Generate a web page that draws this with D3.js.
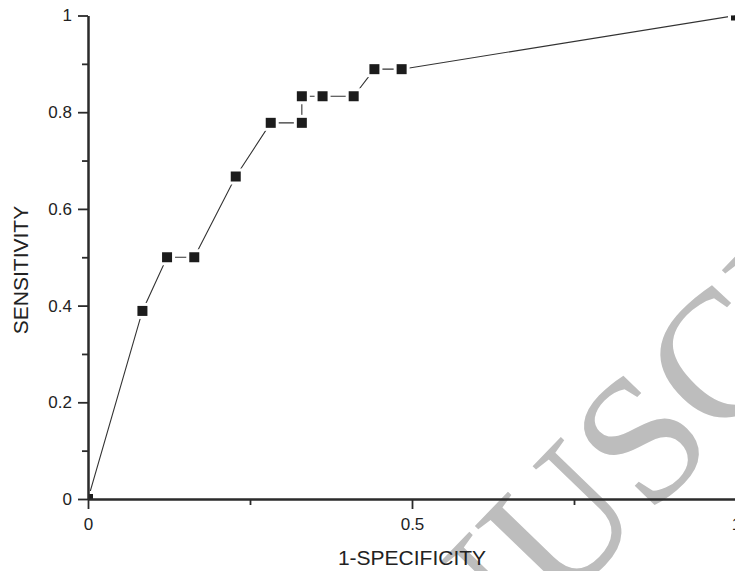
<!DOCTYPE html>
<html>
<head>
<meta charset="utf-8">
<script src="https://cdn.jsdelivr.net/npm/d3@7"></script>
<style>
  body { margin: 0; background: #fff; }
  svg { display: block; }
  .axis path, .axis line { stroke: #2b2b2b; }
  .axis text { font-family: "Liberation Sans", Arial, sans-serif; font-size: 17px; fill: #222; }
</style>
</head>
<body>
<div id="stage"></div>
<script>
// ROC curve points (1-specificity, sensitivity)
var fpr = [0, 0.084, 0.122, 0.164, 0.228, 0.282, 0.330, 0.330, 0.362, 0.410, 0.442, 0.484, 1];
var tpr = [0, 0.389, 0.500, 0.500, 0.667, 0.778, 0.778, 0.833, 0.833, 0.833, 0.889, 0.889, 1];

var xTicks = [0, 0.5, 1];
var xMinor = [0.25, 0.75];
var yTicks = [0, 0.2, 0.4, 0.6, 0.8, 1];
var yMinor = [0.1, 0.3, 0.5, 0.7, 0.9];

var W = 735, H = 571;
var mLeft = 88, mRight = 736, mTop = 15.5, mBottom = 499;

var points = fpr.map(function(d, i){ return {x: d, y: tpr[i]}; });

var svg = d3.select("#stage").append("svg")
  .attr("width", W)
  .attr("height", H);

// watermark
svg.append("text")
  .attr("transform", "translate(263,917) rotate(-46)")
  .attr("font-family", "'Liberation Serif', 'Times New Roman', serif")
  .attr("font-size", 182)
  .attr("fill", "#bdbdbd")
  .text("MANUSCRIPT");

var xScale = d3.scaleLinear().domain([0, 1]).range([mLeft, mRight]);
var yScale = d3.scaleLinear().domain([0, 1]).range([mBottom, mTop]);

svg.append("clipPath")
  .attr("id", "clip")
  .append("rect")
  .attr("x", mLeft)
  .attr("y", mTop)
  .attr("width", mRight - mLeft)
  .attr("height", mBottom - mTop);

var line = d3.line()
  .x(function(d){ return xScale(d.x); })
  .y(function(d){ return yScale(d.y); });

var plot = svg.append("g").attr("clip-path", "url(#clip)");

plot.append("path")
  .datum(points)
  .attr("d", line)
  .attr("fill", "none")
  .attr("stroke", "#333")
  .attr("stroke-width", 1.1);

var s = 10;
plot.selectAll(".pt")
  .data(points)
  .enter()
  .append("rect")
  .attr("class", "pt")
  .attr("x", function(d){ return xScale(d.x) - s / 2; })
  .attr("y", function(d){ return yScale(d.y) - s / 2; })
  .attr("width", s)
  .attr("height", s)
  .attr("fill", "#1c1c1c")
  .attr("stroke", "#fff")
  .attr("stroke-width", 6)
  .attr("paint-order", "stroke");

// axes
var xAxis = d3.axisBottom(xScale)
  .tickValues(xTicks)
  .tickFormat(d3.format("~g"))
  .tickSizeInner(10)
  .tickSizeOuter(0)
  .tickPadding(9);

var xAxisMinor = d3.axisBottom(xScale)
  .tickValues(xMinor)
  .tickFormat("")
  .tickSizeInner(6)
  .tickSizeOuter(0);

var yAxis = d3.axisLeft(yScale)
  .tickValues(yTicks)
  .tickFormat(d3.format("~g"))
  .tickSizeInner(10)
  .tickSizeOuter(0)
  .tickPadding(6);

var yAxisMinor = d3.axisLeft(yScale)
  .tickValues(yMinor)
  .tickFormat("")
  .tickSizeInner(6)
  .tickSizeOuter(0);

svg.append("g").attr("class", "axis")
  .attr("transform", "translate(0," + mBottom + ")")
  .call(xAxis);
svg.append("g").attr("class", "axis")
  .attr("transform", "translate(0," + mBottom + ")")
  .call(xAxisMinor);

svg.append("g").attr("class", "axis")
  .attr("transform", "translate(" + mLeft + ",0)")
  .call(yAxis);
svg.append("g").attr("class", "axis")
  .attr("transform", "translate(" + mLeft + ",0)")
  .call(yAxisMinor);

svg.selectAll(".axis path").attr("stroke-width", 2);
svg.selectAll(".axis line").attr("stroke-width", 1.8);

// axis titles
svg.append("text")
  .attr("x", xScale(0.5))
  .attr("y", 565)
  .attr("text-anchor", "middle")
  .attr("font-family", "'Liberation Sans', Arial, sans-serif")
  .attr("font-size", 21)
  .attr("fill", "#222")
  .text("1-SPECIFICITY");

svg.append("text")
  .attr("transform", "translate(28,270) rotate(-90)")
  .attr("text-anchor", "middle")
  .attr("font-family", "'Liberation Sans', Arial, sans-serif")
  .attr("font-size", 21)
  .attr("fill", "#222")
  .text("SENSITIVITY");
</script>
</body>
</html>
